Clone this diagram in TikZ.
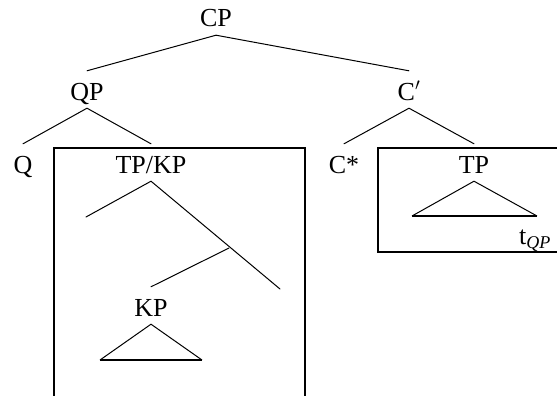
\documentclass[tikz,border=0pt]{standalone}
\usepackage{fontspec}
\setmainfont{Liberation Serif}
\begin{document}
\begin{tikzpicture}[x=1pt,y=-1pt,
  lab/.style={inner sep=0pt,text height=29pt,text depth=8pt,anchor=base,font=\fontsize{26}{30}\selectfont},
  branch/.style={line width=1pt,line cap=round},
  boxline/.style={line width=1.4pt},
  tri/.style={line width=1pt,line join=miter}]
\useasboundingbox (0,0) rectangle (557,396);
\clip (0,0) rectangle (557,396);
% labels
\node[lab] (cp) at (216,27) {CP};
\node[lab] (qp) at (87,100) {QP};
\node[lab] (cbar) at (409,100) {C$'$};
\node[lab] (q) at (23,173) {Q};
\node[lab] (tpkp) at (151,173) {TP/KP};
\node[lab] (cstar) at (344,173) {C*};
\node[lab] (tp) at (474,173) {TP};
\node[lab] (kp) at (151,316) {KP};
\node[lab,anchor=base west] (tqp) at (519,244) {t\raisebox{-4pt}{\fontsize{18}{18}\selectfont\itshape QP}};
% free ends
\coordinate (lfree) at (86,217);
\coordinate (rfree) at (280,289);
\coordinate (bp) at (229,248);
\coordinate (kpl) at (100,360);
\coordinate (kpr) at (202,360);
\coordinate (tpl) at (412,216);
\coordinate (tpr) at (537,216);
% branches
\draw[branch] (cp.south) -- (qp.north);
\draw[branch] (cp.south) -- (cbar.north);
\draw[branch] (qp.south) -- (q.north);
\draw[branch] (qp.south) -- (tpkp.north);
\draw[branch] (cbar.south) -- (cstar.north);
\draw[branch] (cbar.south) -- (tp.north);
\draw[branch] (tpkp.south) -- (lfree);
\draw[branch] (tpkp.south) -- (rfree);
\draw[branch] (bp) -- (kp.north);
% triangles
\draw[tri] (kpl) -- (kp.south) -- (kpr);
\draw[boxline] (kpl) -- (kpr);
\draw[tri] (tpl) -- (tp.south) -- (tpr);
\draw[boxline] (tpl) -- (tpr);
% boxes
\draw[boxline] (54,400) -- (54,148) -- (305,148) -- (305,400);
\draw[boxline] (560,252) -- (378,252) -- (378,148) -- (560,148);
\end{tikzpicture}
\end{document}
